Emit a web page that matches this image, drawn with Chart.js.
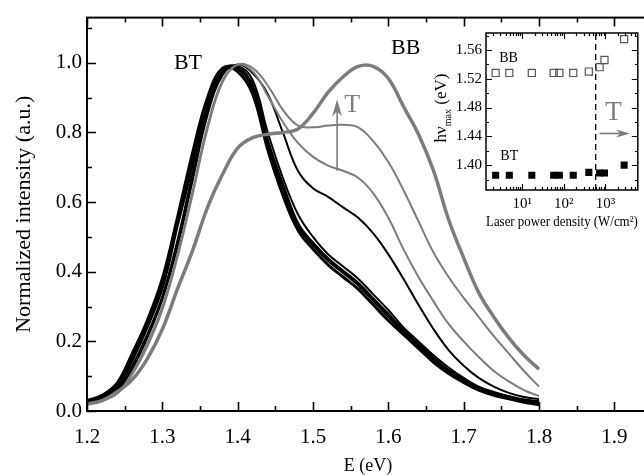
<!DOCTYPE html>
<html>
<head>
<meta charset="utf-8">
<script src="https://cdn.jsdelivr.net/npm/chart.js@4.4.1/dist/chart.umd.min.js"></script>
<style>
  html, body { margin: 0; padding: 0; background: #fff; }
  #wrap { position: relative; width: 644px; height: 475px; overflow: hidden; }
  #main { position: absolute; left: 0; top: 0; }
  #inset { position: absolute; left: 420px; top: 20px; }
</style>
</head>
<body>
<div id="wrap">
  <canvas id="main" width="660" height="475"></canvas>
  <canvas id="inset" width="224" height="215"></canvas>
</div>
<script>
// photon energy (eV)
const energy = [1.20, 1.22, 1.24, 1.26, 1.28, 1.30, 1.32, 1.34, 1.36, 1.38, 1.40, 1.42, 1.44, 1.46, 1.48, 1.50,
                1.52, 1.54, 1.56, 1.58, 1.60, 1.62, 1.64, 1.66, 1.68, 1.70, 1.72, 1.74, 1.76, 1.78, 1.80];

// low power spectra (BT band), black
const btA = [0.025, 0.04, 0.07, 0.15, 0.245, 0.36, 0.54, 0.71, 0.88, 0.98, 0.985, 0.93, 0.77, 0.645, 0.535, 0.48,
             0.435, 0.40, 0.365, 0.32, 0.275, 0.23, 0.19, 0.15, 0.115, 0.09, 0.065, 0.05, 0.04, 0.03, 0.025];
const btB = [0.02, 0.035, 0.06, 0.13, 0.22, 0.33, 0.49, 0.68, 0.86, 0.97, 0.99, 0.95, 0.80, 0.67, 0.565, 0.50,
             0.45, 0.415, 0.38, 0.335, 0.29, 0.24, 0.20, 0.16, 0.125, 0.095, 0.07, 0.055, 0.042, 0.032, 0.027];
const btC = [0.03, 0.045, 0.08, 0.165, 0.26, 0.38, 0.555, 0.74, 0.90, 0.985, 0.975, 0.91, 0.75, 0.62, 0.52, 0.465,
             0.42, 0.385, 0.35, 0.305, 0.26, 0.22, 0.18, 0.14, 0.108, 0.082, 0.06, 0.045, 0.035, 0.025, 0.018];
const btShoulder = [0.02, 0.03, 0.055, 0.12, 0.21, 0.32, 0.47, 0.66, 0.85, 0.965, 0.995, 0.97, 0.91, 0.80, 0.69, 0.64,
                    0.615, 0.585, 0.555, 0.51, 0.45, 0.38, 0.305, 0.235, 0.175, 0.13, 0.095, 0.07, 0.052, 0.04, 0.034];

// higher power spectra, grey
const grayBump = [0.02, 0.03, 0.05, 0.11, 0.195, 0.30, 0.45, 0.63, 0.82, 0.95, 0.995, 0.975, 0.905, 0.83, 0.77, 0.73,
                  0.705, 0.69, 0.67, 0.625, 0.555, 0.465, 0.385, 0.315, 0.25, 0.20, 0.155, 0.115, 0.085, 0.06, 0.043];
const grayPlateau = [0.02, 0.03, 0.05, 0.105, 0.185, 0.29, 0.44, 0.62, 0.81, 0.945, 0.995, 0.985, 0.935, 0.865, 0.82, 0.815,
                     0.82, 0.822, 0.815, 0.775, 0.715, 0.635, 0.545, 0.455, 0.385, 0.325, 0.27, 0.215, 0.165, 0.115, 0.07];
const bbBand = [0.02, 0.03, 0.055, 0.09, 0.15, 0.235, 0.35, 0.46, 0.585, 0.68, 0.755, 0.785, 0.795, 0.80, 0.81, 0.855,
                0.915, 0.96, 0.99, 0.99, 0.955, 0.875, 0.795, 0.69, 0.55, 0.44, 0.34, 0.27, 0.21, 0.16, 0.12];

const xTicks = [1.2, 1.3, 1.4, 1.5, 1.6, 1.7, 1.8, 1.9];
const yTicks = [0, 0.2, 0.4, 0.6, 0.8, 1.0];

// inset: peak position vs laser power density
const power = [2.3, 4.9, 17, 57, 78, 168, 398, 723, 946, 2800];
const bbPeak = [1.528, 1.528, 1.528, 1.528, 1.528, 1.528, 1.530, 1.536, 1.546, 1.575];
const btPeak = [1.386, 1.386, 1.386, 1.386, 1.386, 1.386, 1.390, 1.389, 1.389, 1.400];
const dashPower = 582;
const insetXTicks = [10, 100, 1000];
const insetXLabels = ['10\u00B9', '10\u00B2', '10\u00B3'];
const insetYTicks = [1.40, 1.44, 1.48, 1.52, 1.56];

const FONT = '"Liberation Serif", "Times New Roman", serif';
const GREY = '#7c7c7c';

const pts = arr => energy.map((e, i) => ({ x: e, y: arr[i] }));

function line(arr, color, width, order) {
  return {
    data: pts(arr), borderColor: color, borderWidth: width, pointRadius: 0,
    tension: 0.4, fill: false, order
  };
}

function arrowHead(ctx, x, y, dx, dy, len, half) {
  // tip at (x,y), pointing along (dx,dy)
  ctx.beginPath();
  ctx.moveTo(x, y);
  ctx.lineTo(x - dx * len - dy * half, y - dy * len + dx * half);
  ctx.lineTo(x - dx * len * 0.7, y - dy * len * 0.7);
  ctx.lineTo(x - dx * len + dy * half, y - dy * len - dx * half);
  ctx.closePath();
  ctx.fill();
}

const mainFrame = {
  id: 'mainFrame',
  afterDatasetsDraw(chart) {
    const { ctx, chartArea: a, scales: { x, y } } = chart;
    ctx.save();
    ctx.strokeStyle = '#000';
    ctx.lineWidth = 2;
    ctx.strokeRect(a.left, a.top, a.right - a.left, a.bottom - a.top);
    ctx.beginPath();
    for (let i = 0; i <= 15; i++) {
      const px = Math.round(x.getPixelForValue(1.2 + i * 0.05)) + 0.5;
      const len = i % 2 ? 5 : 9;
      ctx.moveTo(px, a.bottom); ctx.lineTo(px, a.bottom - len);
      ctx.moveTo(px, a.top); ctx.lineTo(px, a.top + len);
    }
    for (let i = 0; i <= 11; i++) {
      const py = Math.round(y.getPixelForValue(i * 0.1)) + 0.5;
      const len = i % 2 ? 5 : 9;
      ctx.moveTo(a.left, py); ctx.lineTo(a.left + len, py);
    }
    ctx.lineWidth = 1.6;
    ctx.stroke();

    ctx.fillStyle = '#000';
    ctx.font = '22px ' + FONT;
    ctx.textAlign = 'center';
    ctx.textBaseline = 'middle';
    ctx.fillText('BT', x.getPixelForValue(1.334), y.getPixelForValue(1.0));
    ctx.fillText('BB', x.getPixelForValue(1.623), y.getPixelForValue(1.043));

    // temperature arrow
    const ax = x.getPixelForValue(1.532);
    const ay0 = y.getPixelForValue(0.69), ay1 = y.getPixelForValue(0.895);
    ctx.strokeStyle = GREY; ctx.fillStyle = GREY;
    ctx.lineWidth = 1.6;
    ctx.beginPath(); ctx.moveTo(ax, ay0); ctx.lineTo(ax, ay1 + 8); ctx.stroke();
    arrowHead(ctx, ax, ay1, 0, -1, 17, 5);
    ctx.font = '26px ' + FONT;
    ctx.fillText('T', x.getPixelForValue(1.552), y.getPixelForValue(0.878));
    ctx.restore();
  }
};

new Chart(document.getElementById('main'), {
  type: 'line',
  data: {
    datasets: [
      line(bbBand, GREY, 3.5, 1),
      line(grayPlateau, GREY, 2, 2),
      line(grayBump, GREY, 2, 3),
      line(btShoulder, '#000', 2, 4),
      line(btB, '#000', 2, 5),
      line(btC, '#000', 3, 6),
      line(btA, '#000', 4, 7)
    ]
  },
  options: {
    responsive: false,
    animation: false,
    devicePixelRatio: 1,
    layout: { padding: { top: 14, right: 11, left: 0, bottom: 0 } },
    plugins: { legend: { display: false }, tooltip: { enabled: false } },
    scales: {
      x: {
        type: 'linear', min: 1.2, max: 1.946,
        afterBuildTicks: s => { s.ticks = xTicks.map(v => ({ value: v })); },
        afterFit: s => { s.height = 64; },
        grid: { display: false, drawTicks: false },
        border: { display: false },
        ticks: {
          padding: 14, autoSkip: false, maxRotation: 0, color: '#000',
          font: { family: FONT, size: 21 },
          callback: v => Number(v).toFixed(1)
        },
        title: {
          display: true, text: 'E (eV)', color: '#000', padding: 0,
          font: { family: FONT, size: 18, lineHeight: 1 }
        }
      },
      y: {
        min: 0, max: 1.13,
        afterBuildTicks: s => { s.ticks = yTicks.map(v => ({ value: v })); },
        afterFit: s => { s.width = 87; },
        grid: { display: false, drawTicks: false },
        border: { display: false },
        ticks: {
          padding: 5, color: '#000',
          font: { family: FONT, size: 21 },
          callback: v => Number(v).toFixed(1)
        },
        title: {
          display: true, text: 'Normalized intensity (a.u.)', color: '#000',
          padding: { top: 11, bottom: 0 },
          font: { family: FONT, size: 22 }
        }
      }
    }
  },
  plugins: [mainFrame]
});

const insetFrame = {
  id: 'insetFrame',
  afterDatasetsDraw(chart) {
    const { ctx, chartArea: a, scales: { x, y } } = chart;
    ctx.save();
    ctx.strokeStyle = '#000';
    ctx.lineWidth = 1.5;
    ctx.strokeRect(a.left, a.top, a.right - a.left, a.bottom - a.top);
    ctx.beginPath();
    ctx.lineWidth = 1.2;
    for (let d = 0; d <= 3; d++) {
      for (let m = 1; m <= 9; m++) {
        const v = m * Math.pow(10, d);
        if (v < x.min || v > x.max) continue;
        const px = Math.round(x.getPixelForValue(v)) + 0.5;
        const len = m === 1 ? 6 : 3;
        ctx.moveTo(px, a.bottom); ctx.lineTo(px, a.bottom - len);
        ctx.moveTo(px, a.top); ctx.lineTo(px, a.top + len);
      }
    }
    for (let i = 0; i <= 10; i++) {
      const v = 1.38 + i * 0.02;
      if (v > y.max) continue;
      const py = Math.round(y.getPixelForValue(v)) + 0.5;
      const len = i % 2 ? 6 : 3;
      ctx.moveTo(a.left, py); ctx.lineTo(a.left + len, py);
      ctx.moveTo(a.right, py); ctx.lineTo(a.right - len, py);
    }
    ctx.stroke();

    ctx.fillStyle = '#000';
    ctx.font = '14px ' + FONT;
    ctx.textAlign = 'center';
    ctx.textBaseline = 'middle';
    ctx.fillText('BB', x.getPixelForValue(4.7), y.getPixelForValue(1.549));
    ctx.fillText('BT', x.getPixelForValue(4.9), y.getPixelForValue(1.412));

    // T arrow
    ctx.fillStyle = GREY; ctx.strokeStyle = GREY;
    const x0 = x.getPixelForValue(720), x1 = x.getPixelForValue(3880), ay = y.getPixelForValue(1.444);
    ctx.lineWidth = 1.6;
    ctx.beginPath(); ctx.moveTo(x0, ay); ctx.lineTo(x1 - 8, ay); ctx.stroke();
    arrowHead(ctx, x1, ay, 1, 0, 14, 4);
    ctx.font = '27px ' + FONT;
    ctx.fillText('T', x.getPixelForValue(1550), y.getPixelForValue(1.473));

    // y title with subscript
    ctx.fillStyle = '#000';
    ctx.translate(20, 88);
    ctx.rotate(-Math.PI / 2);
    const parts = [['h\u03BD', 17, 0], ['max', 10, 5], [' (eV)', 17, 0]];
    let total = 0;
    parts.forEach(p => { ctx.font = p[1] + 'px ' + FONT; total += ctx.measureText(p[0]).width; });
    let cx = -total / 2;
    ctx.textAlign = 'left';
    ctx.textBaseline = 'alphabetic';
    parts.forEach(p => {
      ctx.font = p[1] + 'px ' + FONT;
      ctx.fillText(p[0], cx, 6 + p[2]);
      cx += ctx.measureText(p[0]).width;
    });
    ctx.restore();
  }
};

new Chart(document.getElementById('inset'), {
  type: 'scatter',
  data: {
    datasets: [
      {
        data: power.map((p, i) => ({ x: p, y: bbPeak[i] })),
        pointStyle: 'rect', pointRadius: 5, backgroundColor: 'rgba(255,255,255,0)',
        borderColor: '#555', borderWidth: 1.2
      },
      {
        data: power.map((p, i) => ({ x: p, y: btPeak[i] })),
        pointStyle: 'rect', pointRadius: 5, backgroundColor: '#000',
        borderColor: '#000', borderWidth: 0
      },
      {
        type: 'line',
        data: [{ x: dashPower, y: 1.3655 }, { x: dashPower, y: 1.5835 }],
        borderColor: '#000', borderWidth: 1.3, borderDash: [6, 4], pointRadius: 0
      }
    ]
  },
  options: {
    responsive: false,
    animation: false,
    devicePixelRatio: 1,
    layout: { padding: { top: 12, right: 3, left: 0, bottom: 0 } },
    plugins: { legend: { display: false }, tooltip: { enabled: false } },
    scales: {
      x: {
        type: 'logarithmic', min: 1.35, max: 5970,
        afterBuildTicks: s => { s.ticks = insetXTicks.map(v => ({ value: v })); },
        afterFit: s => { s.height = 45; },
        grid: { display: false, drawTicks: false },
        border: { display: false },
        ticks: {
          padding: 5, autoSkip: false, maxRotation: 0, color: '#000',
          font: { family: FONT, size: 15 },
          callback: (v, i) => insetXLabels[i]
        },
        title: {
          display: true, text: 'Laser power density (W/cm\u00B2)', color: '#000',
          padding: { top: 0, bottom: 4 },
          font: { family: FONT, size: 14.5 }
        }
      },
      y: {
        type: 'linear', min: 1.3655, max: 1.5835,
        afterBuildTicks: s => { s.ticks = insetYTicks.map(v => ({ value: v })); },
        afterFit: s => { s.width = 66; },
        grid: { display: false, drawTicks: false },
        border: { display: false },
        ticks: {
          padding: 4, color: '#000',
          font: { family: FONT, size: 15 },
          callback: v => Number(v).toFixed(2)
        }
      }
    }
  },
  plugins: [insetFrame]
});
</script>
</body>
</html>
